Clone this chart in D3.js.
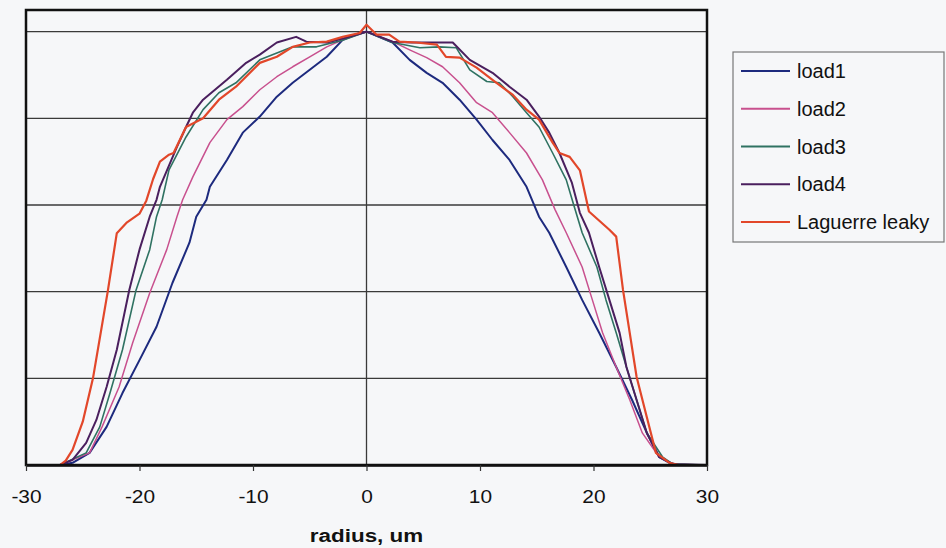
<!DOCTYPE html>
<html>
<head>
<meta charset="utf-8">
<script src="https://cdn.jsdelivr.net/npm/d3@7"></script>
<style>
  html, body { margin: 0; padding: 0; background: #f6f7f9; }
  svg { display: block; }
  text { font-family: "Liberation Sans", Arial, sans-serif; fill: #111; }
</style>
</head>
<body>
<svg id="chart" width="946" height="548"></svg>
<script>
// ---- data ----
const seriesNames = ["load1", "load2", "load3", "load4", "Laguerre leaky"];
const xTicks = [-30, -20, -10, 0, 10, 20, 30];
const yGrid = [0.2, 0.4, 0.6, 0.8, 1.0];
const xTitle = "radius, um";

const load1 = [[-30,0],[-27,0],[-25.9,0.005],[-24.4,0.028],[-22.9,0.088],[-21.5,0.166],[-20,0.242],[-18.5,0.319],[-17.1,0.42],[-15.6,0.513],[-15.0,0.573],[-14.1,0.612],[-13.8,0.642],[-12.3,0.704],[-10.9,0.767],[-9.4,0.804],[-7.9,0.85],[-6.5,0.882],[-5,0.912],[-3.5,0.942],[-2.1,0.981],[-0.6,0.997],[0,1.0],[2.3,0.975],[3.8,0.935],[5.3,0.905],[6.7,0.882],[8.2,0.843],[9.7,0.797],[11.1,0.75],[12.6,0.704],[14.1,0.642],[15.2,0.573],[16.1,0.536],[17.6,0.457],[19.0,0.381],[20.5,0.305],[22.0,0.226],[23.4,0.15],[24.7,0.074],[25.8,0.018],[26.7,0.005],[27.5,0],[30,0]];

const load2 = [[-30,0],[-27,0],[-24.4,0.028],[-23.3,0.088],[-21.8,0.18],[-20.6,0.282],[-19.1,0.397],[-17.6,0.497],[-16.7,0.573],[-16.2,0.612],[-15.3,0.665],[-13.8,0.744],[-12.3,0.797],[-10.9,0.827],[-9.4,0.866],[-7.9,0.896],[-6.5,0.919],[-5.0,0.942],[-3.5,0.965],[-2.1,0.981],[0,1.0],[2.3,0.977],[3.8,0.958],[5.3,0.94],[6.7,0.919],[8.2,0.882],[9.7,0.836],[11.1,0.813],[12.6,0.767],[14.1,0.72],[15.5,0.658],[16.6,0.59],[17.6,0.536],[19.0,0.457],[19.9,0.381],[20.8,0.305],[22.0,0.226],[23.2,0.15],[24.3,0.074],[25.8,0.018],[27,0.002],[30,0]];

const load3 = [[-30,0],[-27,0],[-24.7,0.028],[-23.5,0.088],[-22.6,0.166],[-21.5,0.266],[-20.3,0.404],[-19.1,0.497],[-18.5,0.573],[-18.0,0.612],[-17.4,0.681],[-15.9,0.757],[-14.4,0.82],[-13,0.859],[-11.5,0.882],[-9.4,0.935],[-7.9,0.951],[-6.5,0.965],[-4.4,0.965],[-2.1,0.98],[0,1.0],[2.3,0.975],[4.7,0.963],[6.4,0.965],[7.9,0.963],[9.1,0.912],[10.6,0.885],[11.7,0.882],[12.9,0.85],[14.1,0.813],[15.2,0.78],[16.4,0.72],[17.6,0.658],[18.2,0.605],[19.0,0.536],[20.3,0.457],[21.1,0.381],[22.0,0.305],[22.9,0.226],[23.8,0.15],[24.7,0.074],[26.1,0.018],[27,0.002],[30,0]];

const load4 = [[-30,0],[-27,0],[-25.9,0.012],[-24.7,0.051],[-23.8,0.104],[-22.9,0.18],[-22.0,0.266],[-20.9,0.404],[-20,0.497],[-19.1,0.573],[-18.5,0.612],[-18.2,0.642],[-16.7,0.734],[-15.9,0.78],[-15.3,0.813],[-14.4,0.843],[-12.3,0.889],[-10.6,0.928],[-9.4,0.947],[-7.9,0.975],[-6.2,0.988],[-5.3,0.977],[-3.5,0.975],[-2,0.985],[0,1.0],[2.3,0.977],[4,0.975],[6.2,0.975],[7.6,0.975],[9.1,0.935],[11.1,0.905],[12.6,0.873],[14.1,0.843],[15.2,0.804],[16.1,0.767],[17.0,0.72],[18.1,0.651],[18.8,0.582],[19.6,0.536],[20.5,0.457],[21.4,0.381],[22.3,0.305],[22.9,0.226],[23.8,0.15],[24.7,0.074],[25.8,0.018],[27,0.002],[30,0]];

const laguerre = [[-30,0],[-27,0],[-26.5,0.01],[-25.9,0.035],[-25,0.1],[-24.1,0.2],[-22.8,0.4],[-22.0,0.535],[-21.1,0.56],[-20.0,0.58],[-19.4,0.61],[-18.8,0.66],[-18.2,0.70],[-17.4,0.716],[-17.0,0.72],[-15.9,0.78],[-14.4,0.80],[-13.0,0.843],[-11.5,0.873],[-9.4,0.928],[-7.9,0.942],[-6.5,0.965],[-5.0,0.975],[-3.5,0.977],[-2.1,0.988],[-0.6,0.997],[0,1.016],[0.9,0.993],[2.0,0.993],[2.9,0.977],[4.4,0.975],[6.2,0.97],[7.0,0.942],[8.2,0.94],[9.7,0.917],[11.1,0.889],[12.9,0.854],[14.1,0.82],[15.2,0.797],[16.4,0.744],[17.0,0.72],[17.9,0.711],[18.8,0.68],[19.6,0.585],[21.4,0.543],[22.0,0.527],[22.6,0.404],[23.8,0.203],[24.7,0.11],[25.5,0.028],[26.7,0.005],[27.5,0],[30,0]];

const seriesData = [load1, load2, load3, load4, laguerre];
const seriesColors = ["#1d2a7e", "#c8508e", "#2f7262", "#4a1f5e", "#e2472a"];
const seriesWidths = [2, 1.5, 1.6, 2, 2.2];

// ---- layout ----
const svg = d3.select("#chart");
const x = d3.scaleLinear().domain([-30, 30]).range([26, 707]);
const y = d3.scaleLinear().domain([0, 1.05]).range([465, 10]);

// gridlines
svg.append("g").selectAll("line").data(yGrid).join("line")
  .attr("x1", x(-30)).attr("x2", x(30))
  .attr("y1", d => y(d)).attr("y2", d => y(d))
  .attr("stroke", "#3a3a3a").attr("stroke-width", 1.3);

// vertical line at 0
svg.append("line")
  .attr("x1", x(0)).attr("x2", x(0)).attr("y1", y(1.05)).attr("y2", y(0))
  .attr("stroke", "#3a3a3a").attr("stroke-width", 1.3);

// series
const line = d3.line().x(d => x(d[0])).y(d => y(d[1]));
seriesData.forEach((data, i) => {
  svg.append("path").datum(data)
    .attr("fill", "none")
    .attr("stroke", seriesColors[i])
    .attr("stroke-width", seriesWidths[i])
    .attr("stroke-linejoin", "round")
    .attr("d", line);
});

// plot border
svg.append("rect")
  .attr("x", x(-30)).attr("y", y(1.05))
  .attr("width", x(30) - x(-30)).attr("height", y(0) - y(1.05))
  .attr("fill", "none").attr("stroke", "#111").attr("stroke-width", 2.5);

// x axis
const xAxis = svg.append("g").attr("transform", `translate(0,${y(0)})`)
  .call(d3.axisBottom(x).tickValues(xTicks).tickSize(6).tickSizeOuter(0).tickPadding(19));
xAxis.select(".domain").attr("stroke", "#111").attr("stroke-width", 2.5);
xAxis.selectAll(".tick line").attr("stroke", "#333").attr("stroke-width", 1.2);
xAxis.selectAll(".tick text")
  .style("font-family", '"Liberation Sans", Arial, sans-serif')
  .style("font-size", "19px").attr("fill", "#111")
  .text(d => d < 0 ? "-" + Math.abs(d) : d)
  .attr("transform", "scale(1.1,1)")
  .attr("x", function(d) { return 0; });

// x title
svg.append("text")
  .attr("transform", `translate(${x(0)},542) scale(1.18,1)`)
  .attr("text-anchor", "middle")
  .style("font-size", "19px").style("font-weight", "bold")
  .text(xTitle);

// legend
const lg = svg.append("g");
lg.append("rect").attr("x", 733).attr("y", 52).attr("width", 211).attr("height", 190)
  .attr("fill", "#f6f7f9").attr("stroke", "#777").attr("stroke-width", 1.2);
const legY = d3.scalePoint().domain(seriesNames).range([71, 222]);
seriesNames.forEach((n, i) => {
  lg.append("line").attr("x1", 741).attr("x2", 790)
    .attr("y1", legY(n)).attr("y2", legY(n))
    .attr("stroke", seriesColors[i]).attr("stroke-width", 2);
  lg.append("text").attr("x", 797).attr("y", legY(n) + 7)
    .style("font-size", "20px").text(n);
});
</script>
</body>
</html>
